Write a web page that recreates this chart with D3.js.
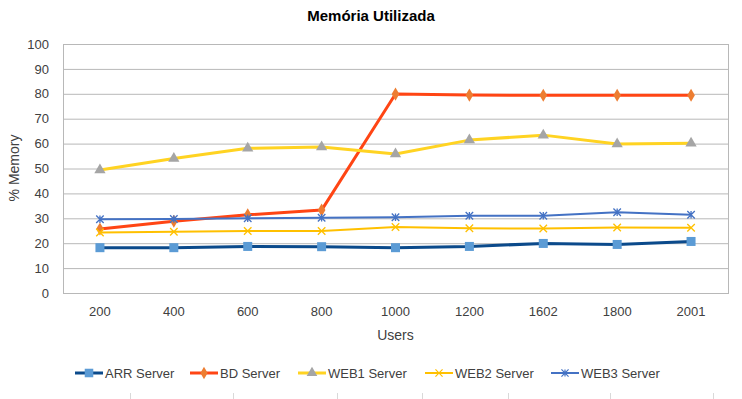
<!DOCTYPE html>
<html>
<head>
<meta charset="utf-8">
<script src="https://cdn.jsdelivr.net/npm/d3@7"></script>
<style>
  body { margin: 0; background: #fff; }
  svg { display: block; font-family: "Liberation Sans", Arial, sans-serif; }
</style>
</head>
<body>
<div id="chart"></div>
<script>
const width = 742, height = 399;

// data
const users = ["200", "400", "600", "800", "1000", "1200", "1602", "1800", "2001"];
const arrServer  = [18.2, 18.2, 18.7, 18.6, 18.2, 18.7, 19.9, 19.5, 20.7];
const bdServer   = [25.7, 28.8, 31.4, 33.3, 79.9, 79.5, 79.4, 79.4, 79.4];
const web1Server = [49.4, 54.0, 58.1, 58.6, 55.8, 61.4, 63.4, 59.8, 60.1];
const web2Server = [24.3, 24.6, 24.9, 24.9, 26.5, 26.0, 25.9, 26.3, 26.2];
const web3Server = [29.6, 29.7, 30.0, 30.2, 30.4, 31.0, 31.0, 32.4, 31.4];
const yTicks = [0, 10, 20, 30, 40, 50, 60, 70, 80, 90, 100];

// custom stroke markers (Excel "x" and "star")
const markX = {
  draw(ctx, size) {
    const r = Math.sqrt(size) / 2;
    ctx.moveTo(-r, -r); ctx.lineTo(r, r);
    ctx.moveTo(r, -r); ctx.lineTo(-r, r);
  }
};
const markStar = {
  draw(ctx, size) {
    const r = Math.sqrt(size) / 2;
    ctx.moveTo(-r, -r); ctx.lineTo(r, r);
    ctx.moveTo(r, -r); ctx.lineTo(-r, r);
    ctx.moveTo(0, -r); ctx.lineTo(0, r);
  }
};

const series = [
  { name: "ARR Server",  values: arrServer,  line: "#0b4a8b", lw: 3,   marker: d3.symbolSquare,   msize: 81,  fill: "#5b9bd5", stroke: null },
  { name: "BD Server",   values: bdServer,   line: "#ff4514", lw: 3,   marker: d3.symbolDiamond,  msize: 50,  fill: "#ed7d31", stroke: null },
  { name: "WEB1 Server", values: web1Server, line: "#ffd322", lw: 3,   marker: d3.symbolTriangle, msize: 55,  fill: "#a5a5a5", stroke: null },
  { name: "WEB2 Server", values: web2Server, line: "#ffc000", lw: 2,   marker: markX,             msize: 56,  fill: "none",    stroke: "#ffc000" },
  { name: "WEB3 Server", values: web3Server, line: "#4472c4", lw: 2,   marker: markStar,          msize: 56,  fill: "none",    stroke: "#4472c4" }
];

const plot = { left: 63, right: 728, top: 44, bottom: 293 };

const svg = d3.select("#chart").append("svg")
  .attr("width", width).attr("height", height);

const x = d3.scaleBand().domain(users).range([plot.left, plot.right]);
const y = d3.scaleLinear().domain([0, 100]).range([plot.bottom, plot.top]);

// gridlines
svg.append("g").selectAll("line").data(yTicks).join("line")
  .attr("x1", plot.left).attr("x2", plot.right)
  .attr("y1", d => y(d) + 0.5).attr("y2", d => y(d) + 0.5)
  .attr("stroke", "#b8b8b8").attr("stroke-width", 1);

// plot border
svg.append("rect")
  .attr("x", plot.left + 0.5).attr("y", plot.top + 0.5)
  .attr("width", plot.right - plot.left).attr("height", plot.bottom - plot.top)
  .attr("fill", "none").attr("stroke", "#b8b8b8");

// axes
const yAxis = svg.append("g")
  .attr("transform", `translate(${plot.left},0)`)
  .call(d3.axisLeft(y).tickValues(yTicks).tickSize(0).tickPadding(14));
const xAxis = svg.append("g")
  .attr("transform", `translate(0,${plot.bottom})`)
  .call(d3.axisBottom(x).tickSize(0).tickPadding(14));
[yAxis, xAxis].forEach(g => {
  g.select(".domain").remove();
  g.selectAll("text").attr("font-size", 13).attr("fill", "#404040")
    .attr("font-family", "Liberation Sans, Arial, sans-serif");
});

// titles
svg.append("text").attr("x", width / 2).attr("y", 21).attr("text-anchor", "middle")
  .attr("font-size", 15).attr("font-weight", "bold").attr("fill", "#000")
  .text("Memória Utilizada");
svg.append("text").attr("x", (plot.left + plot.right) / 2).attr("y", 340)
  .attr("text-anchor", "middle").attr("font-size", 14).attr("fill", "#404040")
  .text("Users");
svg.append("text").attr("transform", "translate(19,168) rotate(-90)")
  .attr("text-anchor", "middle").attr("font-size", 14).attr("fill", "#404040")
  .text("% Memory");

const line = d3.line()
  .x((d, i) => x(users[i]) + x.bandwidth() / 2)
  .y(d => y(d));

series.forEach(s => {
  const g = svg.append("g");
  g.append("path").datum(s.values)
    .attr("d", line).attr("fill", "none")
    .attr("stroke", s.line).attr("stroke-width", s.lw)
    .attr("stroke-linejoin", "round");
  g.selectAll("path.mk").data(s.values).join("path").attr("class", "mk")
    .attr("transform", (d, i) => `translate(${x(users[i]) + x.bandwidth() / 2},${y(d)})`)
    .attr("d", d3.symbol().type(s.marker).size(s.msize))
    .attr("fill", s.fill)
    .attr("stroke", s.stroke || "none").attr("stroke-width", 1.3);
});

// legend
const legendX = [75, 190, 298, 425, 551];
const legend = svg.append("g").selectAll("g").data(series).join("g")
  .attr("transform", (d, i) => `translate(${legendX[i]},373)`);
legend.append("line").attr("x1", 0).attr("x2", 28)
  .attr("stroke", d => d.line).attr("stroke-width", d => d.lw);
legend.append("path").attr("transform", "translate(14,0)")
  .attr("d", d => d3.symbol().type(d.marker).size(d.msize * 0.9)())
  .attr("fill", d => d.fill).attr("stroke", d => d.stroke || "none").attr("stroke-width", 1.2);
legend.append("text").attr("x", 30).attr("dy", "0.35em")
  .attr("font-size", 13).attr("fill", "#404040").text(d => d.name);

// faint tick marks along the bottom edge
const bottomTicks = [130, 233, 337, 422, 508, 610, 713];
svg.append("g").selectAll("line").data(bottomTicks).join("line")
  .attr("x1", d => d + 0.5).attr("x2", d => d + 0.5)
  .attr("y1", 393).attr("y2", height)
  .attr("stroke", "#d9d9d9");
</script>
</body>
</html>
